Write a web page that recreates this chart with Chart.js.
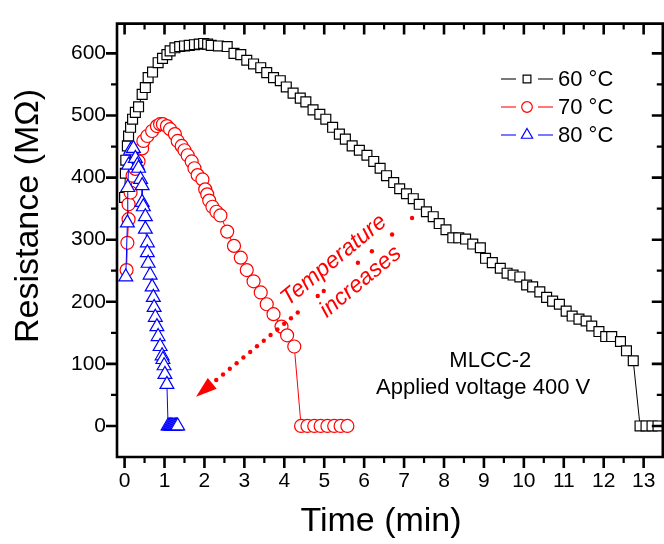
<!DOCTYPE html>
<html>
<head>
<meta charset="utf-8">
<script src="https://cdn.jsdelivr.net/npm/chart.js@4.4.1/dist/chart.umd.min.js"></script>
<style>
  html, body { margin: 0; padding: 0; background: #fff; overflow: hidden; }
  #wrap { width: 672px; height: 544px; }
</style>
</head>
<body>
<div id="wrap"><canvas id="chart" width="672" height="544"></canvas></div>
<script>
// time (min) and resistance (MOhm)
const t60 = [0.00, 0.02, 0.03, 0.07, 0.10, 0.15, 0.20, 0.27, 0.35, 0.44,
             0.52, 0.59, 0.70, 0.84, 0.95, 1.06, 1.14, 1.26, 1.38, 1.50,
             1.62, 1.75, 1.87, 1.98, 2.08, 2.17, 2.35, 2.57, 2.74, 2.91,
             3.06, 3.23, 3.41, 3.56, 3.73, 3.90, 4.05, 4.22, 4.40, 4.54,
             4.72, 4.89, 5.04, 5.21, 5.38, 5.53, 5.70, 5.88, 6.07, 6.24,
             6.40, 6.56, 6.74, 6.89, 7.06, 7.23, 7.38, 7.56, 7.73, 7.88,
             8.05, 8.22, 8.37, 8.54, 8.72, 8.91, 9.04, 9.21, 9.41, 9.58,
             9.73, 9.90, 10.07, 10.22, 10.40, 10.57, 10.72, 10.89, 11.06, 11.21,
             11.38, 11.56, 11.70, 11.88, 12.05, 12.20, 12.42, 12.57, 12.74, 12.91,
             13.06, 13.21, 13.36];
const r60 = [368, 407, 428, 451, 467, 481, 494, 505, 514, 534,
             545, 561, 570, 585, 592, 598, 604, 609, 611, 612,
             613, 614, 615, 616, 615, 613, 612, 611, 600, 598,
             589, 583, 577, 569, 561, 556, 546, 536, 528, 522,
             509, 502, 494, 481, 470, 462, 451, 444, 436, 426,
             415, 403, 392, 382, 374, 366, 357, 345, 337, 326,
             316, 303, 303, 301, 293, 287, 270, 263, 254, 246,
             243, 240, 227, 224, 216, 207, 201, 196, 185, 177,
             172, 169, 161, 152, 144, 144, 136, 121, 105, 0,
             0, 0, 0];

const t70 = [0.05, 0.07, 0.10, 0.10, 0.15, 0.20, 0.27, 0.35, 0.44, 0.47,
             0.57, 0.69, 0.81, 0.89, 0.96, 1.06, 1.14, 1.26, 1.33, 1.43,
             1.50, 1.58, 1.68, 1.75, 1.83, 1.95, 2.02, 2.07, 2.12, 2.20,
             2.30, 2.40, 2.57, 2.74, 2.91, 3.06, 3.23, 3.41, 3.56, 3.73,
             3.93, 4.07, 4.25, 4.42, 4.58, 4.75, 4.91, 5.08, 5.25, 5.41, 5.58];
const r70 = [251, 295, 333, 357, 376, 403, 414, 426, 447, 459,
             467, 475, 483, 486, 486, 483, 478, 470, 459, 451,
             444, 436, 426, 415, 404, 397, 381, 373, 363, 353,
             345, 339, 313, 290, 271, 251, 233, 215, 196, 180,
             160, 146, 128, 0, 0, 0, 0, 0, 0, 0, 0];

const t80 = [0.03, 0.07, 0.08, 0.10, 0.15, 0.22, 0.27, 0.32, 0.35, 0.40,
             0.44, 0.44, 0.47, 0.52, 0.52, 0.57, 0.57, 0.59, 0.64, 0.69,
             0.72, 0.74, 0.77, 0.81, 0.84, 0.89, 0.94, 0.96, 0.99, 1.01, 1.06,
             1.09, 1.12, 1.15, 1.18, 1.21, 1.24, 1.27, 1.30, 1.33];
const r80 = [240, 327, 384, 420, 444, 447, 431, 420, 415, 397,
             387, 360, 353, 337, 317, 295, 279, 262, 243, 224,
             207, 191, 175, 160, 144, 128, 113, 107, 97, 83, 67,
             0, 0, 0, 0, 0, 0, 0, 0, 0];

const seriesNames = ['60 °C', '70 °C', '80 °C'];
const xTicks = [0, 1, 2, 3, 4, 5, 6, 7, 8, 9, 10, 11, 12, 13];
const yTicks = [0, 100, 200, 300, 400, 500, 600];
const xTitle = 'Time (min)';
const yTitle = 'Resistance (MΩ)';
const noteLines = ['MLCC-2', 'Applied voltage 400 V'];
const arrowWords = ['Temperature', 'increases'];

const FONT = "'Liberation Sans', Arial, sans-serif";
const pts = (xs, ys) => xs.map((x, i) => ({ x: x, y: ys[i] }));

function series(label, xs, ys, color, style, radius, order) {
    return {
        label: label,
        data: pts(xs, ys),
        showLine: true,
        borderColor: color,
        borderWidth: 1,
        pointStyle: style,
        pointRadius: radius,
        pointBorderColor: color,
        pointBackgroundColor: '#fff',
        pointBorderWidth: 1.2,
        order: order
    };
}

const framePlugin = {
    id: 'frame',
    afterDatasetsDraw(chart) {
        const { ctx, chartArea: a } = chart;
        const xs = chart.scales.x, ys = chart.scales.y;
        ctx.save();

        // axes box
        ctx.strokeStyle = '#000';
        ctx.lineWidth = 2.6;
        ctx.beginPath();
        ctx.rect(a.left, a.top, a.right - a.left, a.bottom - a.top);
        ctx.stroke();

        const tick = (isX, v, len) => {
            if (isX) {
                const p = xs.getPixelForValue(v);
                ctx.moveTo(p, a.bottom); ctx.lineTo(p, a.bottom + len);
                ctx.moveTo(p, a.top); ctx.lineTo(p, a.top + len);
            } else {
                const p = ys.getPixelForValue(v);
                ctx.moveTo(a.left, p); ctx.lineTo(a.left - len, p);
                ctx.moveTo(a.right, p); ctx.lineTo(a.right - len, p);
            }
        };
        ctx.beginPath();
        xTicks.forEach(v => tick(true, v, 11));
        yTicks.forEach(v => tick(false, v, 11));
        ctx.stroke();
        ctx.lineWidth = 2.2;
        ctx.beginPath();
        xTicks.slice(0, -1).forEach(v => tick(true, v + 0.5, 6));
        yTicks.slice(0, -1).forEach(v => tick(false, v + 50, 6));
        ctx.stroke();

        // axis titles (the figure is cropped, so they sit off the box centre)
        ctx.fillStyle = '#000';
        ctx.font = '34px ' + FONT;
        ctx.textAlign = 'center';
        ctx.textBaseline = 'middle';
        ctx.fillText(xTitle, 381, 522);
        ctx.save();
        ctx.translate(29, 216);
        ctx.rotate(-Math.PI / 2);
        ctx.fillText(yTitle, 0, 0);
        ctx.restore();

        // legend
        const rows = [79, 107, 135];
        const legendRadius = [5.5, 5.3, 6.5];
        chart.data.datasets.forEach((ds, i) => {
            const yy = rows[i];
            ctx.globalAlpha = 0.7;
            ctx.strokeStyle = ds.borderColor;
            ctx.lineWidth = 1.5;
            ctx.beginPath();
            ctx.moveTo(501, yy); ctx.lineTo(516, yy);
            ctx.moveTo(538, yy); ctx.lineTo(553, yy);
            ctx.stroke();
            ctx.globalAlpha = 1;
            ctx.fillStyle = '#fff';
            ctx.strokeStyle = ds.borderColor;
            ctx.lineWidth = 1.2;
            Chart.helpers.drawPoint(ctx, { pointStyle: ds.pointStyle, radius: legendRadius[i], rotation: 0, borderWidth: 1.2 }, 527, yy);
            ctx.fillStyle = '#000';
            ctx.font = '22px ' + FONT;
            ctx.textAlign = 'left';
            ctx.textBaseline = 'middle';
            ctx.fillText(ds.label, 558, yy + 1);
        });

        // sample note
        ctx.fillStyle = '#000';
        ctx.font = '22px ' + FONT;
        ctx.textAlign = 'center';
        ctx.textBaseline = 'middle';
        ctx.fillText(noteLines[0], xs.getPixelForValue(9.16), ys.getPixelForValue(104));
        ctx.fillText(noteLines[1], xs.getPixelForValue(8.98), ys.getPixelForValue(61));

        // dotted arrow
        const tx = xs.getPixelForValue(7.2), ty = ys.getPixelForValue(335);
        const hx = xs.getPixelForValue(1.79), hy = ys.getPixelForValue(47);
        const len = Math.hypot(tx - hx, ty - hy);
        const ux = (tx - hx) / len, uy = (ty - hy) / len;
        const headLen = 21, headW = 7;
        const bx = hx + ux * headLen, by = hy + uy * headLen;
        ctx.fillStyle = '#ff0000';
        ctx.beginPath();
        ctx.moveTo(hx, hy);
        ctx.lineTo(bx - uy * headW, by + ux * headW);
        ctx.lineTo(bx + uy * headW, by - ux * headW);
        ctx.closePath();
        ctx.fill();
        const rest = len - headLen;
        const dotAt = s => {
            ctx.beginPath();
            ctx.arc(bx + ux * rest * s, by + uy * rest * s, 2.2, 0, Math.PI * 2);
            ctx.fill();
        };
        for (let s = 0.02; s <= 0.43; s += 0.034) dotAt(s);
        [0.528, 0.558, 0.729, 0.799, 0.9, 1.0].forEach(dotAt);

        const ang = Math.atan2(ty - hy, tx - hx);
        ctx.font = 'italic 23px ' + FONT;
        ctx.textAlign = 'center';
        ctx.textBaseline = 'middle';
        [[arrowWords[0], 5.24, 267], [arrowWords[1], 5.91, 232]].forEach(w => {
            ctx.save();
            ctx.translate(xs.getPixelForValue(w[1]), ys.getPixelForValue(w[2]));
            ctx.rotate(ang);
            ctx.fillText(w[0], 0, 0);
            ctx.restore();
        });

        ctx.restore();
    }
};

new Chart(document.getElementById('chart').getContext('2d'), {
    type: 'scatter',
    data: {
        datasets: [
            series(seriesNames[0], t60, r60, '#000000', 'rect', 7, 2),
            series(seriesNames[1], t70, r70, '#ff0000', 'circle', 6.5, 1),
            series(seriesNames[2], t80, r80, '#0000ff', 'triangle', 8, 0)
        ]
    },
    options: {
        responsive: false,
        animation: false,
        layout: { padding: { top: 11.5, right: 2, left: 0, bottom: 0 } },
        plugins: { legend: { display: false }, tooltip: { enabled: false } },
        scales: {
            x: {
                type: 'linear',
                min: -0.19,
                max: 13.48,
                afterFit: s => { s.height = 87; },
                afterBuildTicks: s => { s.ticks = xTicks.map(v => ({ value: v })); },
                grid: { display: false, drawTicks: false },
                border: { display: false },
                ticks: { color: '#000', padding: 12, font: { family: FONT, size: 21 } },
                title: { display: false }
            },
            y: {
                type: 'linear',
                min: -50,
                max: 648,
                afterFit: s => { s.width = 117; },
                afterBuildTicks: s => { s.ticks = yTicks.map(v => ({ value: v })); },
                grid: { display: false, drawTicks: false },
                border: { display: false },
                ticks: { color: '#000', padding: 11, font: { family: FONT, size: 21 } },
                title: { display: false }
            }
        }
    },
    plugins: [framePlugin]
});
</script>
</body>
</html>
